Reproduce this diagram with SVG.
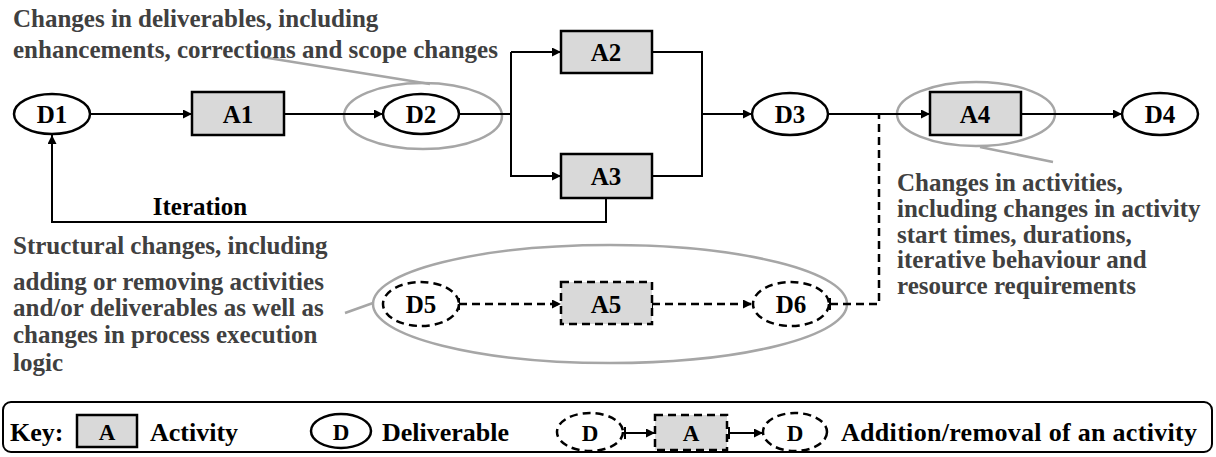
<svg xmlns="http://www.w3.org/2000/svg" width="1216" height="457" viewBox="0 0 1216 457">
<style>
text{font-family:"Liberation Serif","Times New Roman",serif;font-weight:bold;}
.lbl{font-size:25px;fill:#000;text-anchor:middle;}
.note{font-size:25px;fill:#404040;}
.blk{font-size:25px;fill:#000;}
.key{font-size:26px;fill:#000;}
.act{fill:#d9d9d9;stroke:#000;stroke-width:2.5;}
.del{fill:#fff;stroke:#000;stroke-width:2.5;}
.dash{stroke-dasharray:8 5;}
.con{fill:none;stroke:#000;stroke-width:2;}
.dcon{fill:none;stroke:#000;stroke-width:2.5;stroke-dasharray:8 5;}
.hl{fill:none;stroke:#a6a6a6;stroke-width:2.5;}
</style>
<defs>
<marker id="arr" viewBox="0 0 10 10" refX="10" refY="5" markerWidth="9" markerHeight="9" markerUnits="userSpaceOnUse" orient="auto">
<path d="M0,0 L10,5 L0,10 z" fill="#000"/>
</marker>
<marker id="tick" viewBox="0 0 4 12" refX="1" refY="6" markerWidth="4" markerHeight="12" markerUnits="userSpaceOnUse" orient="auto">
<line x1="1" y1="0" x2="1" y2="12" stroke="#000" stroke-width="2"/>
</marker>
</defs>

<g id="highlights">
<ellipse class="hl" cx="423" cy="116" rx="79" ry="33"/>
<ellipse class="hl" cx="976" cy="114" rx="79" ry="32"/>
<ellipse class="hl" cx="610" cy="304" rx="237" ry="59"/>
<line class="hl" x1="262" y1="57" x2="430" y2="84"/>
<line class="hl" x1="980" y1="147" x2="1053" y2="162"/>
<line class="hl" x1="345" y1="313" x2="373" y2="303"/>
</g>

<g id="connectors">
<line class="con" x1="90" y1="114" x2="192" y2="114" marker-end="url(#arr)"/>
<line class="con" x1="284" y1="114" x2="383" y2="114" marker-end="url(#arr)"/>
<polyline class="con" points="459,114 511,114"/>
<polyline class="con" points="511,52 511,176 561,176" marker-end="url(#arr)"/>
<line class="con" x1="511" y1="52" x2="561" y2="52" marker-end="url(#arr)"/>
<polyline class="con" points="652,52 702,52 702,176 652,176"/>
<line class="con" x1="702" y1="114" x2="752" y2="114" marker-end="url(#arr)"/>
<line class="con" x1="828" y1="114" x2="930" y2="114" marker-end="url(#arr)"/>
<line class="con" x1="1021" y1="114" x2="1122" y2="114" marker-end="url(#arr)"/>
<polyline class="con" points="606,198 606,222 52,222 52,135" marker-end="url(#arr)"/>
<line class="dcon" x1="459" y1="304" x2="561" y2="304" marker-start="url(#tick)" marker-end="url(#arr)"/>
<line class="dcon" x1="652" y1="304" x2="752" y2="304" marker-start="url(#tick)" marker-end="url(#arr)"/>
<polyline class="dcon" points="830,304 879,304 879,114" marker-start="url(#tick)"/>
</g>

<g id="D1"><ellipse class="del" cx="52" cy="114" rx="38" ry="20"/><text class="lbl" x="52" y="123">D1</text></g>
<g id="A1"><rect class="act" x="192" y="92" width="92" height="43"/><text class="lbl" x="238" y="123">A1</text></g>
<g id="D2"><ellipse class="del" cx="421" cy="114" rx="38" ry="20"/><text class="lbl" x="421" y="123">D2</text></g>
<g id="A2"><rect class="act" x="561" y="31" width="91" height="42"/><text class="lbl" x="606" y="61">A2</text></g>
<g id="A3"><rect class="act" x="561" y="154" width="91" height="44"/><text class="lbl" x="606" y="185">A3</text></g>
<g id="D3"><ellipse class="del" cx="790" cy="114" rx="38" ry="21"/><text class="lbl" x="790" y="123">D3</text></g>
<g id="A4"><rect class="act" x="930" y="92" width="91" height="43"/><text class="lbl" x="975" y="123">A4</text></g>
<g id="D4"><ellipse class="del" cx="1160" cy="114" rx="38" ry="21"/><text class="lbl" x="1160" y="123">D4</text></g>
<g id="D5"><ellipse class="del dash" cx="421" cy="304" rx="38" ry="22"/><text class="lbl" x="421" y="313">D5</text></g>
<g id="A5"><rect class="act dash" x="561" y="282" width="91" height="42"/><text class="lbl" x="606" y="313">A5</text></g>
<g id="D6"><ellipse class="del dash" cx="791" cy="304" rx="38" ry="22"/><text class="lbl" x="791" y="313">D6</text></g>

<g id="labels">
<text class="blk" x="200" y="215" text-anchor="middle">Iteration</text>
<text class="note" x="13" y="27">Changes in deliverables, including</text>
<text class="note" x="13" y="58">enhancements, corrections and scope changes</text>
<text class="note" x="897" y="191">Changes in activities,</text>
<text class="note" x="897" y="217">including changes in activity</text>
<text class="note" x="897" y="243">start times, durations,</text>
<text class="note" x="897" y="268">iterative behaviour and</text>
<text class="note" x="897" y="294">resource requirements</text>
<text class="note" x="13" y="254">Structural changes, including</text>
<text class="note" x="13" y="290">adding or removing activities</text>
<text class="note" x="13" y="316">and/or deliverables as well as</text>
<text class="note" x="13" y="343">changes in process execution</text>
<text class="note" x="13" y="371">logic</text>
</g>

<g id="key">
<rect x="3" y="402" width="1209" height="50" rx="8" fill="none" stroke="#000" stroke-width="2"/>
<text class="key" x="10" y="441">Key:</text>
<rect class="act" x="77" y="415" width="60" height="32"/>
<text class="lbl" x="107" y="440" style="font-size:23px">A</text>
<text class="key" x="150" y="441">Activity</text>
<ellipse class="del" cx="341" cy="431" rx="30" ry="17"/>
<text class="lbl" x="341" y="440" style="font-size:23px">D</text>
<text class="key" x="382" y="441">Deliverable</text>
<ellipse class="del dash" cx="590" cy="432" rx="33" ry="19"/>
<text class="lbl" x="590" y="441" style="font-size:23px">D</text>
<line class="con" x1="625" y1="433" x2="655" y2="433" marker-start="url(#tick)" marker-end="url(#arr)"/>
<rect class="act dash" x="655" y="415" width="72" height="35"/>
<text class="lbl" x="691" y="441" style="font-size:23px">A</text>
<line class="con" x1="729" y1="433" x2="763" y2="433" marker-start="url(#tick)" marker-end="url(#arr)"/>
<ellipse class="del dash" cx="795" cy="432" rx="32" ry="19"/>
<text class="lbl" x="795" y="441" style="font-size:23px">D</text>
<text class="key" x="841" y="441" textLength="356">Addition/removal of an activity</text>
</g>
</svg>
